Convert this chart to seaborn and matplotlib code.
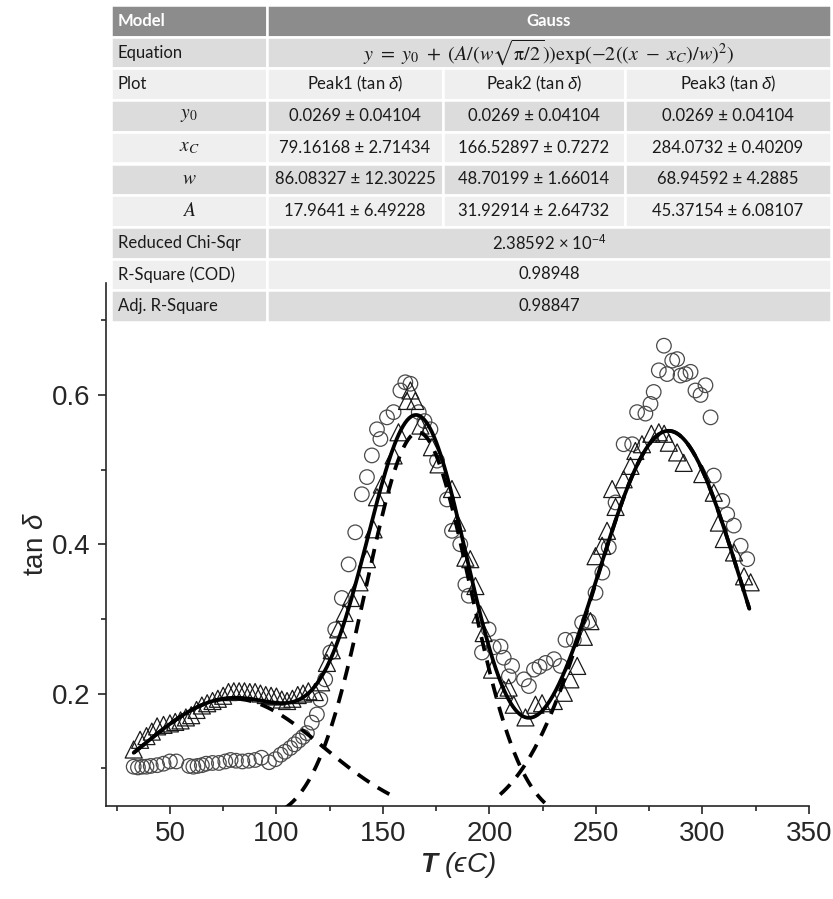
import numpy as np
import pandas as pd
import matplotlib
matplotlib.use("Agg")
import matplotlib.pyplot as plt
from matplotlib.patches import Rectangle
from matplotlib.ticker import MultipleLocator
import seaborn as sns

# ---------------- data ----------------
tri_T = [33, 36, 39, 41.5, 44, 47, 50, 52.5, 55, 57.5, 60, 62.5, 65, 67.5, 70, 72.5,
         75, 77.5, 80, 82.5, 85, 87.5, 90, 92.5, 95, 97.5, 100, 102.5, 105, 107.5,
         110, 112.5, 115, 118, 121, 123.7, 126, 129, 132, 135, 139, 142.5, 145.6,
         147.2, 149.5, 155, 157.3, 161.3, 162.9, 165.2, 167.6, 170.7, 173, 176.1,
         182.4, 184.8, 188.7, 191, 193.4, 195.8, 197.3, 201.2, 206.7, 209, 211.4,
         216.9, 221.6, 224.7, 230.2, 234.9, 238, 241.2, 244.3, 247.4, 249.8, 252.9,
         255.2, 257.6, 259.2, 263, 266.2, 268.5, 271.6, 276, 279.5, 282, 284.2, 288.1,
         291.2, 299.9, 305.3, 307.7, 310, 314.8, 319.5, 322.6]
tri_tan = [0.125, 0.138, 0.143, 0.149, 0.156, 0.158, 0.160, 0.162, 0.164, 0.168, 0.171,
           0.178, 0.184, 0.187, 0.190, 0.193, 0.197, 0.202, 0.203, 0.203, 0.203, 0.202,
           0.202, 0.200, 0.198, 0.197, 0.196, 0.192, 0.190, 0.193, 0.198, 0.200, 0.203,
           0.202, 0.215, 0.241, 0.258, 0.286, 0.308, 0.328, 0.349, 0.380, 0.420, 0.463,
           0.480, 0.519, 0.550, 0.592, 0.606, 0.592, 0.559, 0.552, 0.530, 0.507, 0.474,
           0.429, 0.382, 0.380, 0.344, 0.306, 0.281, 0.232, 0.205, 0.208, 0.185, 0.168,
           0.185, 0.187, 0.190, 0.201, 0.219, 0.237, 0.276, 0.297, 0.384, 0.398, 0.418,
           0.474, 0.450, 0.487, 0.505, 0.525, 0.534, 0.548, 0.550, 0.548, 0.536, 0.523,
           0.509, 0.494, 0.469, 0.429, 0.407, 0.389, 0.357, 0.349]

cir_T = [33, 35, 37, 39, 41, 44, 47, 50, 53, 59, 61, 63, 65, 67, 70, 73, 76, 78.5, 81,
         84, 87, 90, 93, 96.5, 99.5, 102, 104, 106.5, 108.5, 110.5, 112.5, 114.3, 116.6,
         119, 120.6, 122.9, 125.3, 127.6, 130.7, 133.9, 137, 140.1, 142.5, 144.8, 147.2,
         148.8, 151.9, 155, 158.2, 160.5, 162.9, 166.8, 169.5, 172.3, 175.4, 180.1,
         182.4, 186.3, 188.7, 190.3, 196.5, 199.6, 202, 205.2, 206.7, 209.1, 210.6,
         216.2, 218.5, 220.9, 223.5, 226.4, 230.3, 233.4, 235.7, 239.6, 243.5, 246.7,
         249.8, 253, 256, 259.2, 263, 267, 269.3, 273.2, 275.6, 277.1, 279.5, 281.9,
         283.4, 285.8, 288.1, 289.7, 292, 294.4, 296.7, 299.1, 301.4, 303.8, 305.3,
         309.3, 311.6, 314.7, 317.9, 321]
cir_tan = [0.102, 0.101, 0.102, 0.102, 0.103, 0.104, 0.106, 0.109, 0.109, 0.103, 0.102,
           0.103, 0.104, 0.106, 0.107, 0.107, 0.109, 0.111, 0.110, 0.109, 0.110, 0.111,
           0.114, 0.108, 0.112, 0.118, 0.122, 0.127, 0.132, 0.137, 0.142, 0.147, 0.161,
           0.172, 0.192, 0.219, 0.255, 0.286, 0.328, 0.373, 0.416, 0.467, 0.490, 0.519,
           0.554, 0.541, 0.570, 0.577, 0.606, 0.617, 0.615, 0.577, 0.565, 0.554, 0.512,
           0.460, 0.418, 0.400, 0.346, 0.331, 0.255, 0.286, 0.262, 0.263, 0.248, 0.223,
           0.237, 0.219, 0.210, 0.232, 0.236, 0.241, 0.246, 0.237, 0.272, 0.272, 0.295,
           0.297, 0.335, 0.362, 0.396, 0.456, 0.534, 0.534, 0.577, 0.575, 0.588, 0.604,
           0.633, 0.666, 0.628, 0.646, 0.648, 0.626, 0.628, 0.631, 0.606, 0.600, 0.613,
           0.570, 0.492, 0.458, 0.440, 0.425, 0.398, 0.380]

# Gauss fit parameters (from the table in the chart)
peak_labels = ["Peak1 (tan $\\delta$)", "Peak2 (tan $\\delta$)", "Peak3 (tan $\\delta$)"]
y0_val = [0.0269, 0.0269, 0.0269]
y0_err = [0.04104, 0.04104, 0.04104]
xc_val = [79.16168, 166.52897, 284.0732]
xc_err = [2.71434, 0.7272, 0.40209]
w_val = [86.08327, 48.70199, 68.94592]
w_err = [12.30225, 1.66014, 4.2885]
A_val = [17.9641, 31.92914, 45.37154]
A_err = [6.49228, 2.64732, 6.08107]
chi_sqr_text = "2.38592 × 10$^{-4}$"
r_square_text = "0.98948"
adj_r_square_text = "0.98847"
fit_range = (33, 322)
peak_ranges = [(33, 153), (104, 226), (205, 322)]


def gauss(x, y0, xc, w, A):
    return y0 + A / (w * np.sqrt(np.pi / 2)) * np.exp(-2 * ((x - xc) / w) ** 2)


# ---------------- style ----------------
sns.set_style("ticks")
plt.rcParams['font.family'] = ['Liberation Sans', 'DejaVu Sans']
plt.rcParams['mathtext.fontset'] = 'custom'
plt.rcParams['mathtext.rm'] = 'Liberation Sans'
plt.rcParams['mathtext.it'] = 'Liberation Sans:italic'
plt.rcParams['mathtext.bf'] = 'Liberation Sans:bold:italic'

fig = plt.figure(figsize=(8.33, 8.99), dpi=100)
ax = fig.add_axes([106 / 833, 1 - 805.5 / 899, (809 - 106) / 833, (805.5 - 283) / 899])

df_c = pd.DataFrame({"T": cir_T, "tan": cir_tan})
df_t = pd.DataFrame({"T": tri_T, "tan": tri_tan})

sns.scatterplot(data=df_c, x="T", y="tan", ax=ax, marker="o", s=110,
                facecolor="none", edgecolor="#4a4a4a", linewidth=0.9, zorder=2)
sns.scatterplot(data=df_t, x="T", y="tan", ax=ax, marker="^", s=150,
                facecolor="none", edgecolor="#1a1a1a", linewidth=0.9, zorder=3)

xs = np.linspace(fit_range[0], fit_range[1], 600)
fit = y0_val[0] + sum(gauss(xs, 0, xc_val[i], w_val[i], A_val[i]) for i in range(3))
sns.lineplot(x=xs, y=fit, ax=ax, color="black", linewidth=2.7, zorder=5)
for i in range(3):
    xp = np.linspace(peak_ranges[i][0], peak_ranges[i][1], 300)
    yp = gauss(xp, y0_val[i], xc_val[i], w_val[i], A_val[i])
    sns.lineplot(x=xp, y=yp, ax=ax, color="black", linewidth=2.7, zorder=4,
                 linestyle=(0, (3.8, 2.6)))

ax.set_xlim(20, 350)
ax.set_ylim(0.05, 0.75)
ax.xaxis.set_major_locator(MultipleLocator(50))
ax.xaxis.set_minor_locator(MultipleLocator(25))
ax.yaxis.set_major_locator(MultipleLocator(0.2))
ax.yaxis.set_minor_locator(MultipleLocator(0.1))
ax.tick_params(which="major", direction="out", length=6, width=1.2, labelsize=20, pad=5)
ax.tick_params(which="minor", direction="out", length=3.8, width=1.2)
for s in ["left", "bottom"]:
    ax.spines[s].set_linewidth(1.2)
sns.despine(ax=ax)
ax.set_ylabel("tan $\\delta$", fontsize=20, labelpad=2)
ax.set_xlabel("$\\mathbf{T}$ (ϵC)", fontsize=20, style="italic", labelpad=2)

# ---------------- table ----------------
tab = fig.add_axes([0, 0, 1, 1], zorder=5)
tab.set_xlim(0, 833)
tab.set_ylim(899, 0)
tab.axis("off")
col_edges = [111, 267, 443, 625, 831]
row_edges = np.linspace(5, 322, 11)
dark, light, head = "#dcdcdc", "#efefef", "#8c8c8c"
tfont = dict(family=["Lato", "DejaVu Sans"], fontsize=12, color="#1a1a1a")


def cell(c0, c1, r, color):
    x0, x1 = col_edges[c0], col_edges[c1]
    ya, yb = row_edges[r], row_edges[r + 1]
    tab.add_patch(Rectangle((x0, ya), x1 - x0, yb - ya, facecolor=color,
                            edgecolor="white", linewidth=1.8))
    return (x0 + x1) / 2, (ya + yb) / 2


def label(r, text, color):
    cx, cy = cell(0, 1, r, color)
    tab.text(col_edges[0] + 7, cy, text, ha="left", va="center", **tfont)


cx, cy = cell(0, 1, 0, head)
tab.text(col_edges[0] + 7, cy, "Model", ha="left", va="center", fontweight="bold",
         family=["Lato", "DejaVu Sans"], fontsize=12, color="white")
cx, cy = cell(1, 4, 0, head)
tab.text(cx, cy, "Gauss", ha="center", va="center", fontweight="bold",
         family=["Lato", "DejaVu Sans"], fontsize=12, color="white")

label(1, "Equation", dark)
cx, cy = cell(1, 4, 1, dark)
tab.text(cx, cy,
         r"$y\ =\ y_0\ +\ (A/(w\sqrt{\mathrm{\pi}/2}))\mathrm{exp}(-2((x\ -\ x_C)/w)^2)$",
         ha="center", va="center", fontsize=14.5, math_fontfamily="stix", color="#1a1a1a")

label(2, "Plot", light)
for i in range(3):
    cx, cy = cell(i + 1, i + 2, 2, light)
    tab.text(cx, cy, peak_labels[i], ha="center", va="center", **tfont)

param_rows = [("$y_0$", y0_val, y0_err), ("$x_C$", xc_val, xc_err),
              ("$w$", w_val, w_err), ("$A$", A_val, A_err)]
for k, (sym, vals, errs) in enumerate(param_rows):
    r = 3 + k
    color = dark if r % 2 == 1 else light
    cx, cy = cell(0, 1, r, color)
    tab.text(cx, cy, sym, ha="center", va="center", fontsize=14,
             math_fontfamily="stix", color="#1a1a1a")
    for i in range(3):
        cx, cy = cell(i + 1, i + 2, r, color)
        tab.text(cx, cy, f"{vals[i]} ± {errs[i]}", ha="center", va="center", **tfont)

for r, name, val in [(7, "Reduced Chi-Sqr", chi_sqr_text),
                     (8, "R-Square (COD)", r_square_text),
                     (9, "Adj. R-Square", adj_r_square_text)]:
    color = dark if r % 2 == 1 else light
    label(r, name, color)
    cx, cy = cell(1, 4, r, color)
    tab.text(cx, cy, val, ha="center", va="center", **tfont)

fig.savefig("out.png", dpi=100)
